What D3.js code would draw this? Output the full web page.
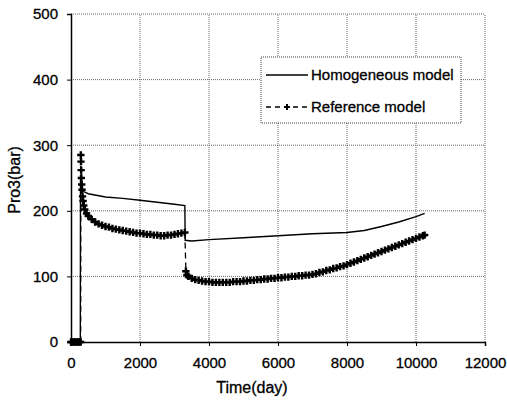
<!DOCTYPE html>
<html>
<head>
<meta charset="utf-8">
<script src="https://cdn.jsdelivr.net/npm/d3@7"></script>
<style>
  body { margin: 0; background: #fff; }
  text { font-family: "Liberation Sans", Arial, sans-serif; fill: #000; }
</style>
</head>
<body>
<div id="chart"></div>
<script>
// Homogeneous model: [time (day), pressure (bar)]
var homogeneous = [
  [0, 0], [270, 0], [275, 255], [300, 240], [330, 233], [380, 229], [500, 226],
  [1000, 221], [1500, 219], [2000, 216], [2500, 213], [3000, 210], [3300, 208],
  [3310, 155], [3500, 154], [4000, 156], [5000, 159], [6000, 162], [7000, 165],
  [8000, 167], [8500, 170], [9000, 176], [9500, 183], [10000, 191], [10250, 196]
];

// Reference model: [time (day), pressure (bar)]
var reference = [
  [0, 0], [40, 0], [80, 0], [120, 0], [160, 0], [200, 0], [240, 0], [280, 0],
  [285, 285], [290, 275], [295, 262], [300, 250], [310, 240], [320, 232], [335, 222],
  [350, 215], [370, 208], [400, 202], [450, 196], [500, 192], [600, 187], [700, 183],
  [800, 180], [900, 178], [1000, 176], [1100, 175], [1200, 173], [1300, 172], [1400, 171],
  [1500, 170], [1600, 169], [1700, 168], [1800, 167], [1900, 166], [2000, 166],
  [2100, 165], [2200, 164], [2300, 164], [2400, 163], [2500, 163], [2600, 162],
  [2700, 162], [2800, 163], [2900, 163], [3000, 164], [3100, 165], [3200, 166], [3300, 167],
  [3330, 108], [3360, 102], [3400, 100], [3500, 97], [3600, 95], [3700, 94], [3800, 93],
  [3900, 92], [4000, 92], [4100, 91], [4200, 91], [4300, 91], [4400, 91], [4500, 91],
  [4600, 91], [4700, 92], [4800, 92], [4900, 92], [5000, 93], [5100, 93], [5200, 94],
  [5300, 94], [5400, 95], [5500, 95], [5600, 96], [5700, 96], [5800, 97], [5900, 97],
  [6000, 98], [6100, 98], [6200, 99], [6300, 99], [6400, 100], [6500, 100], [6600, 101],
  [6700, 101], [6800, 102], [6900, 102], [7000, 103], [7100, 104], [7200, 106],
  [7300, 107], [7400, 109], [7500, 110], [7600, 112], [7700, 113], [7800, 115],
  [7900, 116], [8000, 118], [8100, 120], [8200, 122], [8300, 124], [8400, 126],
  [8500, 128], [8600, 130], [8700, 132], [8800, 134], [8900, 136], [9000, 138],
  [9100, 140], [9200, 142], [9300, 144], [9400, 146], [9500, 148], [9600, 150],
  [9700, 152], [9800, 154], [9900, 156], [10000, 158], [10100, 160], [10200, 162], [10250, 163]
];

var xTicks = [0, 2000, 4000, 6000, 8000, 10000, 12000];
var yTicks = [0, 100, 200, 300, 400, 500];
var seriesNames = ["Homogeneous model", "Reference model"];

var width = 507, height = 401;
var margin = {left: 71, right: 22, top: 14, bottom: 59};

var svg = d3.select("#chart").append("svg")
    .attr("width", width).attr("height", height);

var x = d3.scaleLinear().domain([0, 12000]).range([margin.left, width - margin.right]);
var y = d3.scaleLinear().domain([0, 500]).range([height - margin.bottom, margin.top]);

// grid
svg.append("g").selectAll("line.vg")
    .data(xTicks.slice(1))
    .enter().append("line")
    .attr("x1", d => x(d)).attr("x2", d => x(d))
    .attr("y1", y(0)).attr("y2", y(500))
    .attr("stroke", "#666").attr("stroke-width", 1).attr("stroke-dasharray", "1,1");

svg.append("g").selectAll("line.hg")
    .data(yTicks.slice(1))
    .enter().append("line")
    .attr("x1", x(0)).attr("x2", x(12000))
    .attr("y1", d => y(d)).attr("y2", d => y(d))
    .attr("stroke", "#666").attr("stroke-width", 1).attr("stroke-dasharray", "1,1");

// axes
var xAxis = svg.append("g")
    .attr("transform", "translate(0," + y(0) + ")")
    .call(d3.axisBottom(x).tickValues(xTicks).tickSize(4).tickPadding(11).tickFormat(d3.format("d")));
var yAxis = svg.append("g")
    .attr("transform", "translate(" + x(0) + ",0)")
    .call(d3.axisLeft(y).tickValues(yTicks).tickSize(4).tickPadding(9));

[xAxis, yAxis].forEach(function(a) {
  a.select(".domain").attr("stroke", "#000").attr("stroke-width", 1.5);
  a.selectAll(".tick line").attr("stroke", "#000");
  a.selectAll(".tick text").attr("font-size", 15).attr("font-family", "Liberation Sans, Arial, sans-serif")
    .attr("fill", "#000").attr("stroke", "#000").attr("stroke-width", 0.3);
});

// axis titles
svg.append("text")
    .attr("x", 252).attr("y", 393)
    .attr("text-anchor", "middle").attr("font-size", 16)
    .attr("stroke", "#000").attr("stroke-width", 0.3)
    .text("Time(day)");
svg.append("text")
    .attr("transform", "translate(20,180) rotate(-90)")
    .attr("text-anchor", "middle").attr("font-size", 16)
    .attr("stroke", "#000").attr("stroke-width", 0.3)
    .text("Pro3(bar)");

var line = d3.line().x(d => x(d[0])).y(d => y(d[1]));
var cross = d3.symbol().type(d3.symbolCross).size(30);

// reference model: dashed line with + markers
svg.append("path")
    .datum(reference)
    .attr("fill", "none").attr("stroke", "#000").attr("stroke-width", 1.3)
    .attr("stroke-dasharray", "6,4")
    .attr("d", line);

svg.append("g").selectAll("path")
    .data(reference)
    .enter().append("path")
    .attr("transform", d => "translate(" + x(d[0]) + "," + y(d[1]) + ")")
    .attr("d", cross)
    .attr("fill", "#000");

// homogeneous model
svg.append("path")
    .datum(homogeneous)
    .attr("fill", "none").attr("stroke", "#000").attr("stroke-width", 1.4)
    .attr("d", line);

// legend
var lg = svg.append("g");
lg.append("rect")
    .attr("x", 261).attr("y", 57).attr("width", 200).attr("height", 66)
    .attr("fill", "#fff").attr("stroke", "#444").attr("stroke-dasharray", "1,1");
lg.append("line")
    .attr("x1", 266).attr("x2", 308).attr("y1", 75).attr("y2", 75)
    .attr("stroke", "#000").attr("stroke-width", 1.4);
lg.append("line")
    .attr("x1", 266).attr("x2", 308).attr("y1", 107).attr("y2", 107)
    .attr("stroke", "#000").attr("stroke-width", 1.3).attr("stroke-dasharray", "5,4");
lg.append("path")
    .attr("transform", "translate(287,107)")
    .attr("d", d3.symbol().type(d3.symbolCross).size(20)).attr("fill", "#000");
lg.selectAll("text")
    .data(seriesNames)
    .enter().append("text")
    .attr("x", 311).attr("y", (d, i) => 80 + i * 32)
    .attr("font-size", 15)
    .attr("stroke", "#000").attr("stroke-width", 0.3)
    .text(d => d);
</script>
</body>
</html>
